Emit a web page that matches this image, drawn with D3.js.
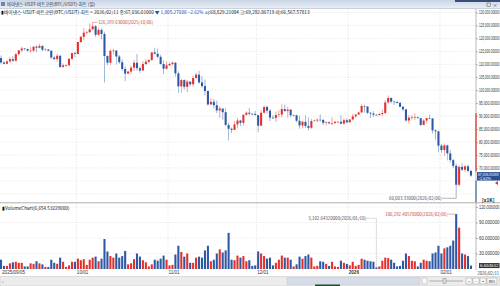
<!DOCTYPE html>
<html>
<head>
<meta charset="utf-8">
<script src="https://cdn.jsdelivr.net/npm/d3@7"></script>
<style>
  html, body { margin: 0; padding: 0; background: #fff; overflow: hidden; }
  svg { display: block; font-family: 'Noto Sans CJK KR', 'Noto Sans', sans-serif; }
</style>
</head>
<body>
<div id="container"></div>
<script>
// BTC/USDT daily, 2025/09/05 .. 2026/02/11  (prices in thousand USDT, volume in thousand BTC)
let firstDay = "2025-09-05";
let lastDay = "2026-02-11";

let opens = [
  112.4,110.7,110.2,111.1,112.0,111.4,113.9,115.4,116.1,115.9,115.3,115.3,116.8,116.4,117.1,115.6,115.7,115.2,112.6,112.0,
  113.3,109.0,109.6,109.6,112.1,114.3,114.0,118.6,120.6,122.2,122.4,123.5,124.7,121.4,123.3,121.7,113.2,110.6,115.2,115.3,
  113.0,110.8,108.2,106.4,107.2,108.7,110.6,108.5,107.6,110.1,111.0,111.7,114.6,114.1,112.9,110.1,108.3,109.6,110.1,110.6,
  106.5,101.5,103.9,101.3,103.3,102.3,104.7,106.0,103.0,101.6,99.7,94.5,95.5,94.2,92.2,92.9,91.5,86.6,85.1,84.7,
  86.8,88.3,87.4,90.5,91.3,90.9,90.8,90.4,86.3,91.3,93.5,92.1,89.4,89.3,90.4,90.6,92.7,92.0,92.5,90.3,
  90.3,88.2,86.4,87.8,86.2,85.5,88.1,88.3,88.6,88.5,87.4,87.6,87.2,87.3,87.8,87.8,87.1,88.4,87.6,88.7,
  89.9,90.6,91.4,93.9,93.7,91.3,91.0,90.5,90.4,90.8,91.2,95.3,97.0,95.6,95.5,95.1,93.6,92.6,88.3,89.4,
  89.5,89.5,89.2,86.6,88.3,89.2,89.1,84.5,84.1,78.6,76.9,78.7,75.6,73.0,70.8,63.5,70.4,69.3,70.6,68.82921084
];
let highs = [
  113.4,111.2,111.6,112.9,113.2,114.3,115.4,116.8,116.3,116.1,116.8,117.0,117.3,117.9,117.4,116.3,115.9,115.4,113.3,114.0,
  113.5,110.3,110.0,112.4,114.5,114.8,118.6,121.0,123.9,122.9,125.7,126.19963,125.1,124.2,123.8,122.6,113.5,115.8,116.0,115.5,
  113.6,111.9,109.2,107.5,109.5,111.7,114.0,109.2,111.3,112.0,111.9,114.7,116.4,116.1,113.7,111.6,111.2,110.6,111.2,110.8,
  107.3,104.5,104.2,104.0,103.4,105.5,106.7,107.5,105.3,104.1,99.9,96.9,96.6,96.0,93.9,92.9,93.2,87.5,85.6,88.0,
  89.2,88.6,90.7,91.9,93.1,91.2,92.0,90.4,92.3,94.1,94.1,92.7,90.3,91.8,92.3,94.6,94.5,93.6,92.8,90.6,
  90.5,90.1,88.2,90.3,89.5,89.0,88.6,89.1,90.6,88.9,87.9,88.0,89.5,88.0,88.0,90.4,89.3,89.2,88.8,90.9,
  90.7,91.8,94.7,94.4,93.8,91.5,91.9,90.8,91.3,92.5,96.2,97.9,97.2,95.9,95.6,95.5,93.8,92.8,90.4,90.3,
  91.1,89.8,89.2,88.8,89.4,90.5,89.2,84.9,84.3,79.3,79.4,79.0,76.9,73.5,71.6,71.0,71.7,71.0,71.3,69.29286719
];
let lows = [
  110.2,110.0,110.0,110.6,110.8,110.9,113.4,114.7,115.3,114.8,114.4,114.7,114.7,116.2,115.1,115.4,115.1,112.0,111.5,111.1,
  108.6,108.6,109.1,109.3,111.6,112.7,113.9,118.3,119.3,121.6,122.1,123.1,120.6,121.1,119.6,103.0,109.6,109.7,113.8,109.9,
  110.2,107.5,103.5,106.3,106.1,107.4,107.5,106.7,107.5,109.7,110.6,111.3,113.8,112.2,109.9,106.3,108.0,109.4,109.6,105.3,
  98.9,98.9,100.3,99.3,101.5,101.4,104.5,102.5,100.7,98.0,94.0,94.5,93.0,91.2,89.3,88.6,86.1,80.6,83.5,84.6,
  85.3,86.1,86.3,90.1,90.2,90.3,90.3,83.8,86.2,91.0,91.0,88.1,88.9,87.7,89.6,89.5,91.5,89.3,89.5,89.8,
  87.6,85.2,85.3,85.4,84.5,85.1,87.9,87.6,87.9,86.6,86.4,86.9,86.5,87.1,87.3,86.8,86.7,87.1,87.5,88.3,
  89.3,90.5,91.3,91.3,90.8,89.3,89.6,90.3,90.2,90.0,90.9,94.8,95.0,94.3,94.9,93.6,91.9,87.9,87.2,88.4,
  88.5,89.1,86.1,86.5,87.2,88.8,83.3,81.0,76.0,75.8,74.6,72.9,72.1,69.9,60.00333,62.8,68.8,68.5,68.3,66.56757813
];
let closes = [
  110.7,110.2,111.1,112.0,111.4,113.9,115.4,116.1,115.9,115.3,115.3,116.8,116.4,117.1,115.6,115.7,115.2,112.6,112.0,113.3,
  109.0,109.6,109.6,112.1,114.3,114.0,118.6,120.6,122.2,122.4,123.5,124.7,121.4,123.3,121.7,113.2,110.6,115.2,115.3,113.0,
  110.8,108.2,106.4,107.2,108.7,110.6,108.5,107.6,110.1,111.0,111.7,114.6,114.1,112.9,110.1,108.3,109.6,110.1,110.6,106.5,
  101.5,103.9,101.3,103.3,102.3,104.7,106.0,103.0,101.6,99.7,94.5,95.5,94.2,92.2,92.9,91.5,86.6,85.1,84.7,86.8,
  88.3,87.4,90.5,91.3,90.9,90.8,90.4,86.3,91.3,93.5,92.1,89.4,89.3,90.4,90.6,92.7,92.0,92.5,90.3,90.3,
  88.2,86.4,87.8,86.2,85.5,88.1,88.3,88.6,88.5,87.4,87.6,87.2,87.3,87.8,87.8,87.1,88.4,87.6,88.7,89.9,
  90.6,91.4,93.9,93.7,91.3,91.0,90.5,90.4,90.8,91.2,95.3,97.0,95.6,95.5,95.1,93.6,92.6,88.3,89.4,89.5,
  89.5,89.2,86.6,88.3,89.2,89.1,84.5,84.1,78.6,76.9,78.7,75.6,73.0,70.8,63.5,70.4,69.3,70.6,68.84128,67.03601
];
let volumes = [
  18,6,6,11,13,14,12,12,5,5,11,10,15,11,9,4,4,18,12,10,
  22,14,4,7,14,14,20,17,19,8,18,22,24,15,20,58,34,25,22,30,
  22,25,35,9,11,19,30,24,17,13,5,9,18,16,20,26,18,7,8,28,
  45,33,24,30,12,12,22,24,22,36,45,15,18,30,38,32,36,70,18,17,
  26,22,25,15,17,6,7,34,30,25,20,22,7,12,18,26,22,22,18,5,
  9,24,20,25,28,22,5,6,15,14,10,6,14,5,4,16,12,10,7,14,
  6,8,20,18,16,15,14,3.1026432,5,16,22,21,18,12,5,6,16,30,25,16,
  15,5,12,18,16,15,30,32,45,30,40,42,45,55,106.2924057,80,30,28,25,6.65453229
];

let priceTicks = [70, 75, 80, 85, 90, 95, 100, 105, 110, 115, 120, 125, 130];
let priceGrid = [60, 65, 70, 75, 80, 85, 90, 95, 100, 105, 110, 115, 120, 125, 130];
let volumeTicks = [30, 60, 90, 120];

let w = 500;
let h = 286;
let axisX = 476;
let red = "#e3302a";
let blue = "#2c58a6";

let dates = d3.timeDay.range(new Date(firstDay + "T00:00"), d3.timeDay.offset(new Date(lastDay + "T00:00"), 1));
let fmtDate = d3.timeFormat("%Y/%m/%d");
let n = dates.length;
let idx = d3.range(n);

let viz = d3.select("#container").append("svg")
  .attr("width", w)
  .attr("height", h)
  .style("background-color", "white");

let x = d3.scaleBand().domain(idx).range([0, 472]).paddingInner(0.3);
let cx = i => x(i) + x.bandwidth() / 2;
let yP = d3.scaleLinear().domain([60, 130]).range([193.8, 12.5]);
let yV = d3.scaleLinear().domain([0, 120]).range([269, 207]);

let up = i => closes[i] >= opens[i];
let monthStarts = idx.filter(i => dates[i].getDate() == 1);

// ---- title bar
let titleGrad = viz.append("defs").append("linearGradient").attr("id", "tg").attr("x1", 0).attr("x2", 0).attr("y1", 0).attr("y2", 1);
titleGrad.append("stop").attr("offset", 0).attr("stop-color", "#c9d6e6");
titleGrad.append("stop").attr("offset", 1).attr("stop-color", "#e9eef5");
viz.append("rect").attr("x", 0).attr("y", 0).attr("width", w).attr("height", 8).attr("fill", "url(#tg)");
viz.append("rect").attr("x", 455).attr("y", 0).attr("width", 45).attr("height", 2).attr("fill", "#3a4f78");
viz.append("line").attr("x1", 0).attr("x2", w).attr("y1", 8.5).attr("y2", 8.5).attr("stroke", "#a8b4c4").attr("stroke-width", 0.6);
viz.append("rect").attr("x", 1).attr("y", 2).attr("width", 4).attr("height", 4).attr("fill", "#6f86a8");
viz.append("text").attr("x", 7).attr("y", 6.3).attr("font-size", 4.4).attr("fill", "#1f2a3a")
  .text("바이낸스-USDT-비트코인(BTC/USDT)-차트 (일)");

// ---- grid
let grid = viz.append("g");
grid.selectAll(".hg").data(priceGrid).enter().append("line")
  .attr("x1", 0).attr("x2", axisX).attr("y1", d => yP(d)).attr("y2", d => yP(d))
  .attr("stroke", "#cfcfcf").attr("stroke-width", 0.5).attr("stroke-dasharray", "1,1.5");
grid.selectAll(".vg").data(volumeTicks).enter().append("line")
  .attr("x1", 0).attr("x2", axisX).attr("y1", d => yV(d)).attr("y2", d => yV(d))
  .attr("stroke", "#cfcfcf").attr("stroke-width", 0.5).attr("stroke-dasharray", "1,1.5");
grid.selectAll(".mg").data(monthStarts).enter().append("line")
  .attr("x1", d => x(d) - 0.5).attr("x2", d => x(d) - 0.5).attr("y1", 9).attr("y2", 269)
  .attr("stroke", "#c6c6c6").attr("stroke-width", 0.5).attr("stroke-dasharray", "1,1.5");

// panel separator
viz.append("line").attr("x1", 0).attr("x2", w).attr("y1", 202.8).attr("y2", 202.8).attr("stroke", "#9a9a9a").attr("stroke-width", 0.8);

// ---- candles
let candles = viz.append("g").selectAll(".c").data(idx).enter().append("g");
candles.append("line")
  .attr("x1", cx).attr("x2", cx)
  .attr("y1", i => yP(highs[i])).attr("y2", i => yP(lows[i]))
  .attr("stroke", i => up(i) ? red : blue).attr("stroke-width", 0.6).attr("opacity", 0.75);
candles.append("rect")
  .attr("x", i => x(i)).attr("width", x.bandwidth())
  .attr("y", i => yP(Math.max(opens[i], closes[i])))
  .attr("height", i => Math.max(0.6, Math.abs(yP(opens[i]) - yP(closes[i]))))
  .attr("fill", i => up(i) ? red : blue);

// ---- volume bars
viz.append("g").selectAll(".v").data(idx).enter().append("rect")
  .attr("x", i => x(i)).attr("width", x.bandwidth())
  .attr("y", i => yV(volumes[i]))
  .attr("height", i => yV(0) - yV(volumes[i]))
  .attr("fill", i => up(i) ? red : blue);

// ---- price axis
let pAxis = viz.append("g").attr("transform", "translate(" + axisX + ",0)")
  .call(d3.axisRight(yP).tickValues(priceTicks).tickSize(2).tickPadding(1)
    .tickFormat(d => d3.format(",.5f")(d * 1000)));
pAxis.select(".domain").remove();
pAxis.selectAll("line").attr("stroke", "#777").attr("stroke-width", 0.5);
pAxis.selectAll("text").attr("font-size", 4.6).attr("fill", "#333").attr("font-family", null)
  .attr("textLength", 20.5).attr("lengthAdjust", "spacingAndGlyphs");
viz.append("line").attr("x1", axisX).attr("x2", axisX).attr("y1", 9).attr("y2", 270).attr("stroke", "#8a8a8a").attr("stroke-width", 0.6);
viz.append("line").attr("x1", axisX).attr("x2", axisX).attr("y1", yP(d3.max(highs.slice(-20)))).attr("y2", yP(closes[n - 1]) - 4)
  .attr("stroke", red).attr("stroke-width", 1.2);
viz.append("line").attr("x1", axisX).attr("x2", axisX).attr("y1", yP(closes[n - 1]) + 5).attr("y2", 202)
  .attr("stroke", blue).attr("stroke-width", 1);

// current price box
let cy = yP(closes[n - 1]) + 0.5;
viz.append("rect").attr("x", axisX + 1).attr("y", cy - 4).attr("width", 23).attr("height", 8.5).attr("fill", "#2b4f92");
viz.append("text").attr("x", axisX + 2).attr("y", cy - 0.3).attr("font-size", 3.8).attr("fill", "white")
  .attr("textLength", 20.5).attr("lengthAdjust", "spacingAndGlyphs")
  .text(d3.format(",.5f")(closes[n - 1] * 1000));
viz.append("text").attr("x", axisX + 2).attr("y", cy + 3.6).attr("font-size", 3.8).attr("fill", "white")
  .text(d3.format(".2f")((closes[n - 1] - closes[n - 2]) / closes[n - 2] * 100) + "%");
viz.append("path").attr("d", "M495,183 l3,-2 v4 z").attr("fill", red);

// ---- volume axis
let vAxis = viz.append("g").attr("transform", "translate(" + axisX + ",0)")
  .call(d3.axisRight(yV).tickValues(volumeTicks).tickSize(2).tickPadding(1).tickFormat(d3.format(".6f")));
vAxis.select(".domain").remove();
vAxis.selectAll("line").attr("stroke", "#777").attr("stroke-width", 0.5);
vAxis.selectAll("text").attr("font-size", 4.6).attr("fill", "#333").attr("font-family", null)
  .attr("textLength", 20.5).attr("lengthAdjust", "spacingAndGlyphs");
viz.append("text").attr("x", 482).attr("y", 201.8).attr("font-size", 4.8).attr("font-weight", "bold").attr("fill", "#222").text("[x1K]");
let vy = yV(volumes[n - 1]);
viz.append("rect").attr("x", axisX + 3).attr("y", vy - 2.5).attr("width", 20.5).attr("height", 5).attr("fill", "#333");
viz.append("text").attr("x", axisX + 4).attr("y", vy + 1.5).attr("font-size", 3.8).attr("fill", "white")
  .attr("textLength", 18.5).attr("lengthAdjust", "spacingAndGlyphs")
  .text(d3.format(".6f")(volumes[n - 1]));

// ---- date axis
let dAxis = viz.append("g").attr("transform", "translate(0,269)")
  .call(d3.axisBottom(x).tickValues([0].concat(monthStarts)).tickSize(0).tickPadding(1.5)
    .tickFormat(i => i == 0 ? fmtDate(dates[i]) : (dates[i].getMonth() == 0 ? d3.timeFormat("%Y")(dates[i]) : d3.timeFormat("%m/%d")(dates[i]))));
dAxis.select(".domain").remove();
dAxis.selectAll("text").attr("font-size", 4.6).attr("fill", "#333").attr("font-family", null)
  .attr("text-anchor", "start")
  .attr("font-weight", i => dates[i].getMonth() == 0 && dates[i].getDate() == 1 ? "bold" : null)
  .attr("dx", i => i == 0 ? 1 : -x.bandwidth() / 2);
viz.append("text").attr("x", 477.5).attr("y", 275).attr("font-size", 4.4).attr("fill", "#333")
  .attr("textLength", 21.5).attr("lengthAdjust", "spacingAndGlyphs").text(fmtDate(dates[n - 1]));

// ---- header line
let f5 = d3.format(",.5f");
let chg = (closes[n - 1] - closes[n - 2]) * 1000;
let pct = (closes[n - 1] - closes[n - 2]) / closes[n - 2] * 100;
let hdr = viz.append("text").attr("x", 1).attr("y", 14).attr("font-size", 4.7).attr("fill", "#111");
hdr.append("tspan").text("▮바이낸스-USDT-비트코인(BTC/USDT)-차트 > " + fmtDate(dates[n - 1]) + " 종:" + f5(closes[n - 1] * 1000) + " ");
hdr.append("tspan").attr("fill", "#1d47c6").text("▼ " + f5(Math.abs(chg)) + "  " + d3.format(".2f")(pct) + "% ");
hdr.append("tspan").text(" 시:" + f5(opens[n - 1] * 1000) + " 고:" + f5(highs[n - 1] * 1000) + " 저:" + f5(lows[n - 1] * 1000));
viz.append("rect").attr("x", 487).attr("y", 3).attr("width", 3.5).attr("height", 3.5).attr("fill", "none").attr("stroke", "#555").attr("stroke-width", 0.5);
viz.append("text").attr("x", 492.5).attr("y", 6.8).attr("font-size", 5).attr("fill", "#444").text("×");

viz.append("text").attr("x", 2).attr("y", 209.5).attr("font-size", 4.6).attr("fill", "#111")
  .text("▮VolumeChart(" + d3.format(",.8f")(volumes[n - 1] * 1000) + ")");

// ---- annotations
let iMax = d3.maxIndex(highs);
let iMin = d3.minIndex(lows);
let ann = viz.append("g").attr("font-size", 4.4);
let ym = yP(highs[iMax]);
ann.append("line").attr("x1", cx(iMax)).attr("x2", cx(iMax) + 5).attr("y1", ym).attr("y2", ym).attr("stroke", "#c55").attr("stroke-width", 0.5);
ann.append("text").attr("x", cx(iMax) + 5.5).attr("y", ym + 1.6).attr("fill", "#c8413b")
  .text(f5(highs[iMax] * 1000) + "(" + fmtDate(dates[iMax]) + ")");
let yl = yP(lows[iMin]) + 4.5;
ann.append("path").attr("d", "M" + (cx(iMin) - 14) + "," + yl + "H" + cx(iMin) + "V" + yP(lows[iMin]))
  .attr("fill", "none").attr("stroke", "#667").attr("stroke-width", 0.5);
ann.append("text").attr("x", cx(iMin) - 14.5).attr("y", yl + 1.6).attr("text-anchor", "end").attr("fill", "#3c4a66")
  .text(f5(lows[iMin] * 1000) + "(" + fmtDate(dates[iMin]) + ")");

let iVMax = d3.maxIndex(volumes);
let iVMin = d3.minIndex(volumes);
let f8 = d3.format(",.8f");
let yvm = yV(volumes[iVMax]);
ann.append("line").attr("x1", cx(iVMax) - 8).attr("x2", cx(iVMax) - 1).attr("y1", yvm).attr("y2", yvm).attr("stroke", "#c55").attr("stroke-width", 0.5);
ann.append("text").attr("x", cx(iVMax) - 8.5).attr("y", yvm + 1.6).attr("text-anchor", "end").attr("fill", "#c8413b")
  .text(f8(volumes[iVMax] * 1000) + "(" + fmtDate(dates[iVMax]) + ")");
let yvl = 218.3;
ann.append("path").attr("d", "M" + (cx(iVMin) - 10) + "," + yvl + "H" + cx(iVMin) + "V" + yV(volumes[iVMin]))
  .attr("fill", "none").attr("stroke", "#777").attr("stroke-width", 0.5).attr("stroke-dasharray", "1,1");
ann.append("text").attr("x", cx(iVMin) - 10.5).attr("y", yvl + 1.6).attr("text-anchor", "end").attr("fill", "#3c4a66")
  .text(f8(volumes[iVMin] * 1000) + "(" + fmtDate(dates[iVMin]) + ")");

// ---- scroll bar
let sb = viz.append("g");
sb.append("rect").attr("x", 0).attr("y", 276.5).attr("width", w).attr("height", 9.5).attr("fill", "#ececec").attr("stroke", "#c4c4c4").attr("stroke-width", 0.5);
sb.append("rect").attr("x", 287).attr("y", 277.5).attr("width", 133).attr("height", 7).attr("fill", "#d6dde8").attr("stroke", "#b8c0cc").attr("stroke-width", 0.4);
sb.append("text").attr("x", 2).attr("y", 282.5).attr("font-size", 5).attr("fill", "#666").text("‹");
sb.append("rect").attr("x", 422).attr("y", 278).attr("width", 5).attr("height", 6).attr("fill", "#f8f8f8").attr("stroke", "#999").attr("stroke-width", 0.4);
sb.append("line").attr("x1", 429).attr("x2", 463).attr("y1", 281).attr("y2", 281).attr("stroke", "#888").attr("stroke-width", 0.6);
sb.append("rect").attr("x", 443).attr("y", 278.5).attr("width", 3).attr("height", 5).attr("fill", "#ddd").attr("stroke", "#777").attr("stroke-width", 0.4);
["+", "−", "▪", "RES"].forEach((t, k) => {
  let bx = 466 + k * 7;
  sb.append("rect").attr("x", bx).attr("y", 278).attr("width", k == 3 ? 10 : 6).attr("height", 6).attr("fill", "#fafafa").attr("stroke", "#888").attr("stroke-width", 0.4);
  sb.append("text").attr("x", bx + (k == 3 ? 5 : 3)).attr("y", 282.6).attr("text-anchor", "middle").attr("font-size", 3.6).attr("fill", "#222").text(t);
});
sb.append("rect").attr("x", 315).attr("y", 284.5).attr("width", 25).attr("height", 1.5).attr("fill", "#1e4d2b");
</script>
</body>
</html>
